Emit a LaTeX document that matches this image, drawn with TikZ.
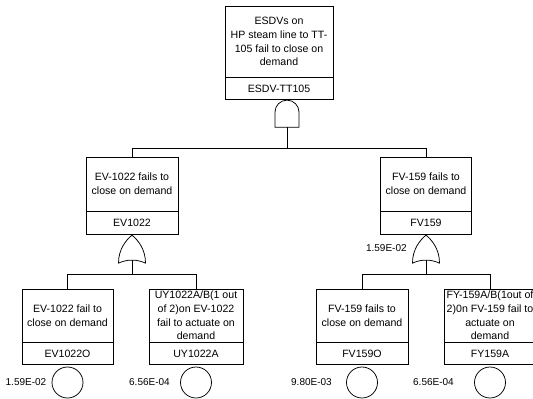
\documentclass[tikz,border=0pt]{standalone}
\usepackage{fontspec}
\setmainfont{Liberation Sans}
\usetikzlibrary{positioning}

\begin{document}
\begin{tikzpicture}[
        x=1pt, y=1pt,
        line width=0.75pt,
        font=\fontsize{10.6}{13.7}\selectfont,
        desc/.style={rectangle, draw, align=center, inner sep=0pt, minimum width=92pt, minimum height=54pt},
        ident/.style={rectangle, draw, align=center, inner sep=0pt, minimum width=92pt, minimum height=23pt},
        basic/.style={circle, draw, minimum size=31pt, inner sep=0pt},
        prob/.style={font=\fontsize{10}{12}\selectfont, inner sep=0pt, anchor=east}
    ]

    \useasboundingbox (0,0) rectangle (533,-399);
    \clip (0,0) rectangle (533,-399);

    % Top event
    \node [desc, minimum width=108pt, minimum height=71pt] (esdv) at (279,-41.5) {ESDVs on\\HP steam line to TT-\\105 fail to close on\\demand};
    \node [ident, minimum width=108pt, minimum height=22pt, below=0pt of esdv] (esdvid) {ESDV-TT105};

    % AND gate
    \coordinate (andg) at ([xshift=8pt]esdvid.south);
    \draw (andg) ++(-12,-27) -- ++(0,15) arc[start angle=180, end angle=0, radius=12] -- ++(0,-15) -- cycle;
    \coordinate (andout) at ([yshift=-27pt]andg);

    % Second level
    \node [desc] (ev1022) at (132,-184) {EV-1022 fails to\\close on demand};
    \node [ident, below=0pt of ev1022] (ev1022id) {EV1022};
    \node [desc, minimum width=91pt] (fv159) at (426,-184) {FV-159 fails to\\close on demand};
    \node [ident, minimum width=91pt, below=0pt of fv159] (fv159id) {FV159};

    \draw (andout) -- ++(0,-21) coordinate (bus0);
    \draw (bus0) -| (ev1022.north);
    \draw (bus0) -| (fv159.north);

    % OR gates
    \coordinate (orL) at (ev1022id.south);
    \coordinate (orR) at (fv159id.south);
    \begin{scope}[shift={(orL)}]
        \draw (-13.5,-28) .. controls (-13.5,-14) and (-6,-5) .. (0,0) .. controls (6,-5) and (13.5,-14) .. (13.5,-28) .. controls (5,-24) and (-5,-24) .. (-13.5,-28) -- cycle;
        \coordinate (orLout) at (0,-25);
    \end{scope}
    \begin{scope}[shift={(orR)}]
        \draw (-13.5,-28) .. controls (-13.5,-14) and (-6,-5) .. (0,0) .. controls (6,-5) and (13.5,-14) .. (13.5,-28) .. controls (5,-24) and (-5,-24) .. (-13.5,-28) -- cycle;
        \coordinate (orRout) at (0,-25);
    \end{scope}
    \node [prob] (fv159p) at (407,-248) {1.59E-02};

    % Basic events
    \node [desc, minimum width=91pt, minimum height=53pt] (ev1022o) at (67.5,-315.5) {EV-1022 fail to\\close on demand};
    \node [ident, minimum width=91pt, minimum height=22pt, below=0pt of ev1022o] (ev1022oid) {EV1022O};
    \node [desc, minimum width=94pt, minimum height=53pt] (uy1022a) at (196,-315.5) {UY1022A/B(1 out\\of 2)on EV-1022\\fail to actuate on\\demand};
    \node [ident, minimum width=94pt, minimum height=22pt, below=0pt of uy1022a] (uy1022aid) {UY1022A};
    \node [desc, minimum height=53pt] (fv159o) at (362,-315.5) {FV-159 fails to\\close on demand};
    \node [ident, minimum height=22pt, below=0pt of fv159o] (fv159oid) {FV159O};
    \node [desc, minimum height=53pt] (fy159a) at (490,-315.5) {FY-159A/B(1out of\\2)0n FV-159 fail to\\actuate on\\demand};
    \node [ident, minimum height=22pt, below=0pt of fy159a] (fy159aid) {FY159A};

    \draw (orLout) -- ++(0,-14) coordinate (busL);
    \draw (busL) -| (ev1022o.north);
    \draw (busL) -| (uy1022a.north);
    \draw (orRout) -- ++(0,-14) coordinate (busR);
    \draw (busR) -| (fv159o.north);
    \draw (busR) -| (fy159a.north);

    \node [basic, below=1.5pt of ev1022oid] (ev1022oev) {};
    \node [basic, below=1.5pt of uy1022aid] (uy1022aev) {};
    \node [basic, below=1.5pt of fv159oid] (fv159oev) {};
    \node [basic, below=1.5pt of fy159aid] (fy159aev) {};

    \node [prob, left=5pt of ev1022oev] (ev1022op) {1.59E-02};
    \node [prob, left=10pt of uy1022aev] (uy1022ap) {6.56E-04};
    \node [prob, left=14pt of fv159oev] (fv159op) {9.80E-03};
    \node [prob, left=20pt of fy159aev] (fy159ap) {6.56E-04};

\end{tikzpicture}
\end{document}
